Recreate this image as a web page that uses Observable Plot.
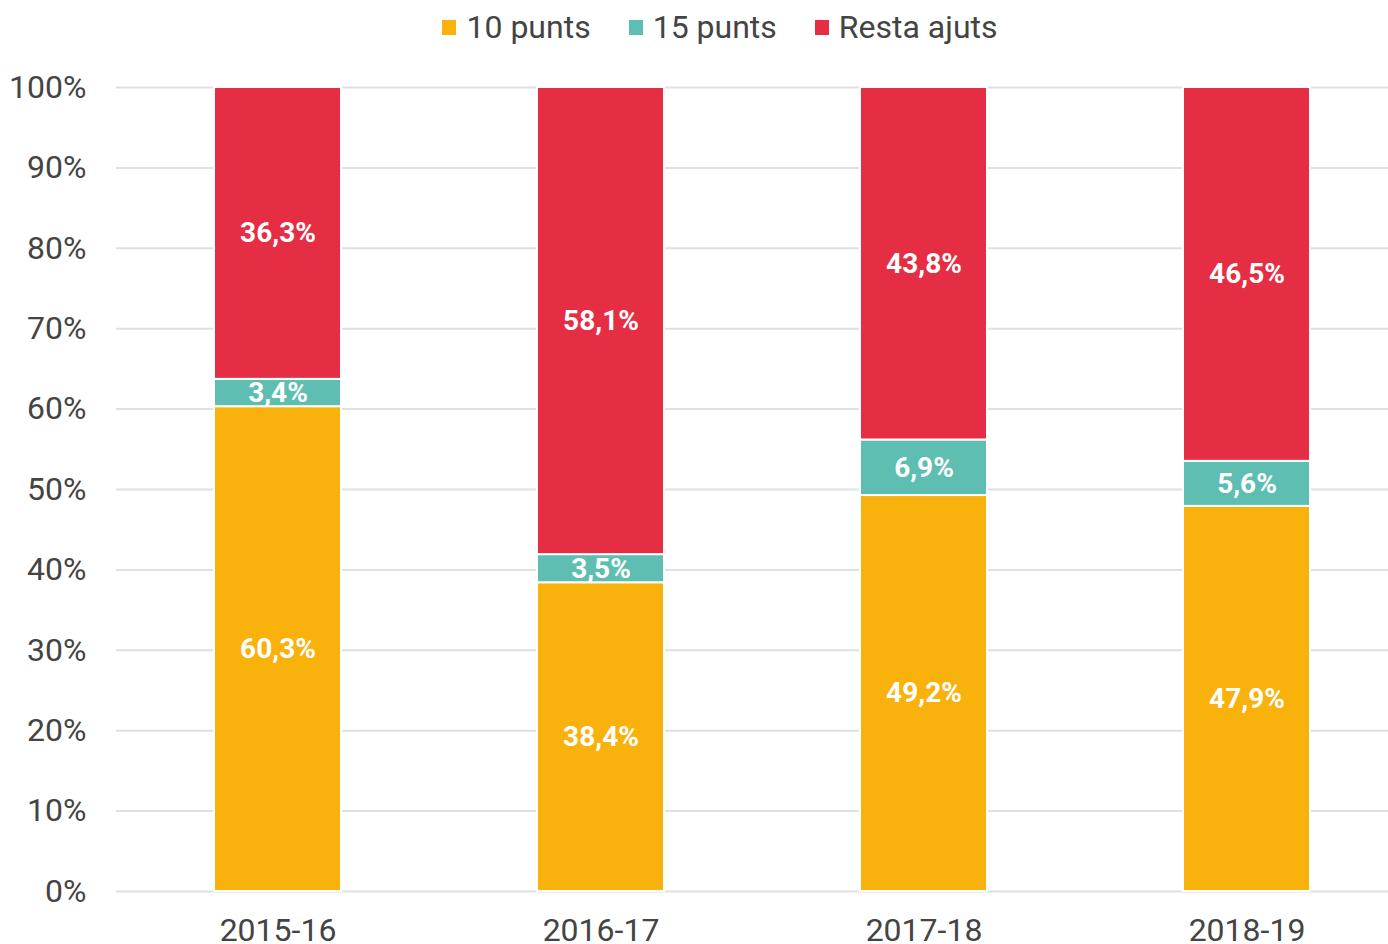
<!DOCTYPE html>
<html>
<head>
<meta charset="utf-8">
<script src="https://cdn.jsdelivr.net/npm/d3@7"></script>
<script src="https://cdn.jsdelivr.net/npm/@observablehq/plot@0.6"></script>
<style>
  html, body { margin: 0; padding: 0; background: #fff; overflow: hidden; }
  body { width: 1388px; height: 944px; font-family: Roboto, "Noto Sans", sans-serif; }
  #legend { height: 56px; display: flex; justify-content: center; align-items: center; padding-left: 52px; padding-bottom: 2px; box-sizing: border-box; font-size: 32px; color: #444; }
  #legend .item { display: flex; align-items: center; margin: 0 19px; }
  #legend .sw { width: 14px; height: 15px; margin-right: 10px; }
  svg { display: block; }
</style>
</head>
<body>
<div id="legend"></div>
<div id="chart"></div>
<script>
const years = ["2015-16", "2016-17", "2017-18", "2018-19"];
const seriesNames = ["10 punts", "15 punts", "Resta ajuts"];
const colors = ["#F9B10C", "#5EBEB2", "#E52D43"];
const punts10 = [60.3, 38.4, 49.2, 47.9];
const punts15 = [3.4, 3.5, 6.9, 5.6];
const resta = [36.3, 58.1, 43.8, 46.5];
const yTicks = [0, 10, 20, 30, 40, 50, 60, 70, 80, 90, 100];

const seriesValues = [punts10, punts15, resta];
const data = [];
seriesNames.forEach((s, i) => {
  years.forEach((yr, j) => data.push({year: yr, series: s, value: seriesValues[i][j]}));
});

const fmt = v => d3.format(".1f")(v).replace(".", ",") + "%";

// legend
const legend = document.getElementById("legend");
seriesNames.forEach((s, i) => {
  const it = document.createElement("div");
  it.className = "item";
  const sw = document.createElement("span");
  sw.className = "sw";
  sw.style.background = colors[i];
  const t = document.createElement("span");
  t.textContent = s;
  it.appendChild(sw);
  it.appendChild(t);
  legend.appendChild(it);
});

const stackOpts = {x: "year", y: "value", z: "series", order: seriesNames, offset: "normalize"};

const chart = Plot.plot({
  width: 1388,
  height: 888,
  marginLeft: 116,
  marginRight: 0,
  marginTop: 31,
  marginBottom: 53,
  style: {fontFamily: "Roboto, sans-serif", background: "#fff"},
  x: {domain: years, range: [116, 1408], paddingInner: 0.607, paddingOuter: 0.3035, label: null},
  y: {domain: [0, 1], label: null},
  color: {domain: seriesNames, range: colors},
  marks: [
    Plot.ruleY(yTicks, {y: d => d / 100, stroke: "#e0e0e0", strokeWidth: 2}),
    Plot.barY(data, Plot.stackY({...stackOpts, fill: "series", stroke: "#fff", strokeWidth: 2})),
    Plot.text(data, Plot.stackY({...stackOpts, text: d => fmt(d.value), fill: "#fff", fontWeight: "bold", fontSize: 28})),
    Plot.axisY(yTicks.map(d => d / 100), {tickSize: 0, tickPadding: 30, tickFormat: d => Math.round(d * 100) + "%", fontSize: 32, fill: "#444", label: null}),
    Plot.axisX({tickSize: 0, tickPadding: 27, fontSize: 32, fill: "#444", label: null})
  ]
});
document.getElementById("chart").appendChild(chart);
</script>
</body>
</html>
